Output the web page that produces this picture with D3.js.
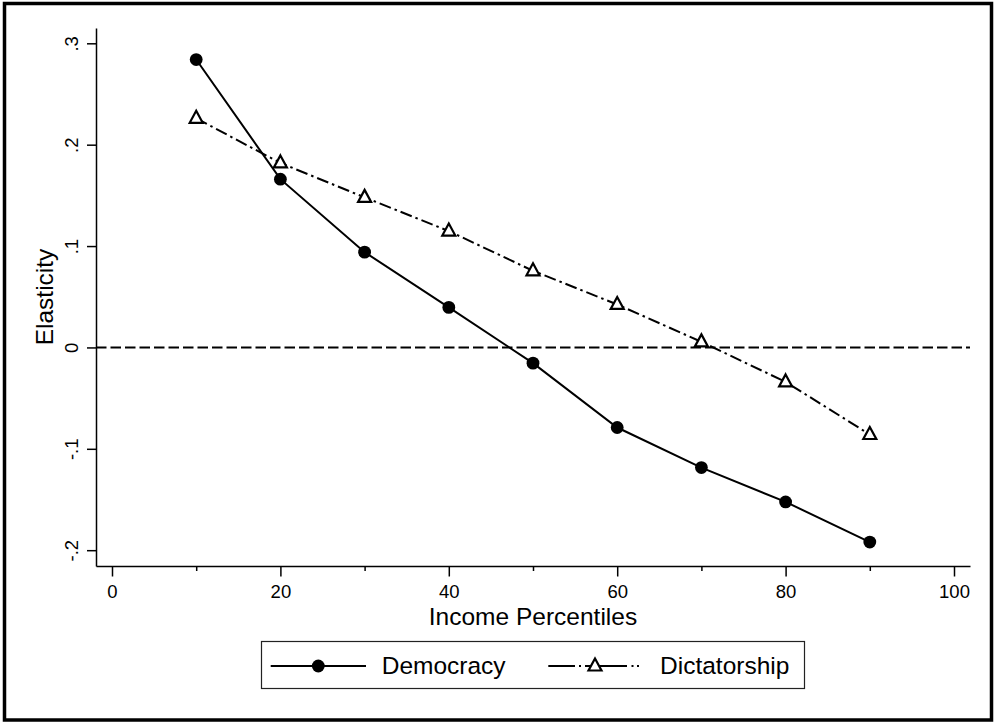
<!DOCTYPE html>
<html>
<head>
<meta charset="utf-8">
<script src="https://cdn.jsdelivr.net/npm/d3@7"></script>
<style>
  html, body { margin: 0; padding: 0; background: #fff; }
  svg { display: block; font-family: "Liberation Sans", Arial, Helvetica, sans-serif; }
</style>
</head>
<body>
<svg id="chart" width="995" height="723"></svg>
<script>
// Income percentiles and estimated elasticities by regime type
const percentiles = [10, 20, 30, 40, 50, 60, 70, 80, 90];
const democracy = [0.284, 0.166, 0.094, 0.0395, -0.0155, -0.079, -0.1185, -0.1524, -0.192];
const dictatorship = [0.226, 0.182, 0.148, 0.1148, 0.0756, 0.0424, 0.0055, -0.034, -0.0859];

const xMajorTicks = [0, 20, 40, 60, 80, 100];
const xMinorTicks = [10, 30, 50, 70, 90];
const yTicks = [-0.2, -0.1, 0, 0.1, 0.2, 0.3];
const yTickLabels = ["-.2", "-.1", "0", ".1", ".2", ".3"];

const seriesNames = ["Democracy", "Dictatorship"];

const svg = d3.select("#chart");

// Outer frame
svg.append("rect")
  .attr("x", 4.5).attr("y", 3.5)
  .attr("width", 987).attr("height", 716.5)
  .attr("fill", "#fff").attr("stroke", "#000").attr("stroke-width", 3.5);

const plotLeft = 96, plotRight = 970, plotTop = 28, plotBottom = 566;

const x = d3.scaleLinear().domain([-1.9, 101.9]).range([plotLeft, plotRight]);
const y = d3.scaleLinear().domain([-0.2156, 0.3151]).range([plotBottom, plotTop]);

const tickFont = 18.5;
const titleFont = 24.5;

// Y axis
const yAxis = d3.axisLeft(y)
  .tickValues(yTicks)
  .tickFormat((d, i) => yTickLabels[i])
  .tickSize(9)
  .tickSizeOuter(0);
const gy = svg.append("g").attr("transform", `translate(${plotLeft},0)`).call(yAxis);
gy.select(".domain").attr("stroke", "#000").attr("stroke-width", 1.5);
gy.selectAll(".tick line").attr("stroke", "#000").attr("stroke-width", 1.5);
gy.selectAll(".tick text")
  .attr("font-size", tickFont)
  .attr("fill", "#000")
  .attr("font-family", "Liberation Sans, Arial, sans-serif")
  .attr("text-anchor", "middle")
  .attr("x", null).attr("dy", null)
  .attr("transform", "translate(-17.7,0) rotate(-90)")
  .attr("y", 0);

// X axis: major ticks with labels, minor ticks without
const xAxis = d3.axisBottom(x)
  .tickValues(xMajorTicks)
  .tickFormat(d3.format("d"))
  .tickSize(10.5)
  .tickSizeOuter(0);
const gx = svg.append("g").attr("transform", `translate(0,${plotBottom})`).call(xAxis);
gx.select(".domain").attr("stroke", "#000").attr("stroke-width", 1.5);
gx.selectAll(".tick line").attr("stroke", "#000").attr("stroke-width", 1.5);
gx.selectAll(".tick text")
  .attr("font-size", tickFont)
  .attr("fill", "#000")
  .attr("font-family", "Liberation Sans, Arial, sans-serif")
  .attr("y", 32.3).attr("dy", null);

const xMinor = d3.axisBottom(x).tickValues(xMinorTicks).tickFormat("").tickSize(5).tickSizeOuter(0);
const gxm = svg.append("g").attr("transform", `translate(0,${plotBottom})`).call(xMinor);
gxm.select(".domain").remove();
gxm.selectAll(".tick line").attr("stroke", "#000").attr("stroke-width", 1.5);

// Axis titles
svg.append("text")
  .attr("x", (plotLeft + plotRight) / 2).attr("y", 624.5)
  .attr("text-anchor", "middle")
  .attr("font-size", titleFont)
  .text("Income Percentiles");

svg.append("text")
  .attr("transform", `translate(52.7,${(plotTop + plotBottom) / 2}) rotate(-90)`)
  .attr("text-anchor", "middle")
  .attr("font-size", titleFont)
  .text("Elasticity");

// Zero reference line
svg.append("line")
  .attr("x1", x.range()[0]).attr("x2", x.range()[1])
  .attr("y1", y(0)).attr("y2", y(0))
  .attr("stroke", "#000").attr("stroke-width", 2)
  .attr("stroke-dasharray", "10.5,4");

const dashDot = "12,4,2.5,4";

const line = d3.line()
  .x((d, i) => x(percentiles[i]))
  .y(d => y(d));

// Dictatorship series
svg.append("path")
  .datum(dictatorship)
  .attr("d", line)
  .attr("fill", "none").attr("stroke", "#000").attr("stroke-width", 2)
  .attr("stroke-dasharray", dashDot);

const triPath = "M0,-7.5L6.5,4.5L-6.5,4.5Z";

svg.append("g").selectAll("path")
  .data(dictatorship)
  .join("path")
  .attr("transform", (d, i) => `translate(${x(percentiles[i])},${y(d)})`)
  .attr("d", triPath)
  .attr("fill", "#fff").attr("stroke", "#000").attr("stroke-width", 2.2);

// Democracy series
svg.append("path")
  .datum(democracy)
  .attr("d", line)
  .attr("fill", "none").attr("stroke", "#000").attr("stroke-width", 2);

svg.append("g").selectAll("circle")
  .data(democracy)
  .join("circle")
  .attr("cx", (d, i) => x(percentiles[i]))
  .attr("cy", d => y(d))
  .attr("r", 6.4)
  .attr("fill", "#000");

// Legend
const legend = svg.append("g");
legend.append("rect")
  .attr("x", 261.5).attr("y", 641.5)
  .attr("width", 543).attr("height", 47)
  .attr("fill", "#fff").attr("stroke", "#222").attr("stroke-width", 1.2);

const legY = 666;
// Democracy key
legend.append("line")
  .attr("x1", 270.7).attr("x2", 366).attr("y1", legY).attr("y2", legY)
  .attr("stroke", "#000").attr("stroke-width", 2);
legend.append("circle")
  .attr("cx", 318.3).attr("cy", legY).attr("r", 6.4).attr("fill", "#000");
legend.append("text")
  .attr("x", 381.7).attr("y", 673.5)
  .attr("font-size", titleFont)
  .text(seriesNames[0]);

// Dictatorship key
legend.append("line")
  .attr("x1", 548.3).attr("x2", 643.3).attr("y1", legY).attr("y2", legY)
  .attr("stroke", "#000").attr("stroke-width", 2)
  .attr("stroke-dasharray", "26.7,4,2,4,42,4.5,2,3.5,2,10");
legend.append("path")
  .attr("transform", `translate(595,${legY})`)
  .attr("d", triPath)
  .attr("fill", "#fff").attr("stroke", "#000").attr("stroke-width", 2.2);
legend.append("text")
  .attr("x", 660).attr("y", 673.5)
  .attr("font-size", titleFont)
  .text(seriesNames[1]);
</script>
</body>
</html>
